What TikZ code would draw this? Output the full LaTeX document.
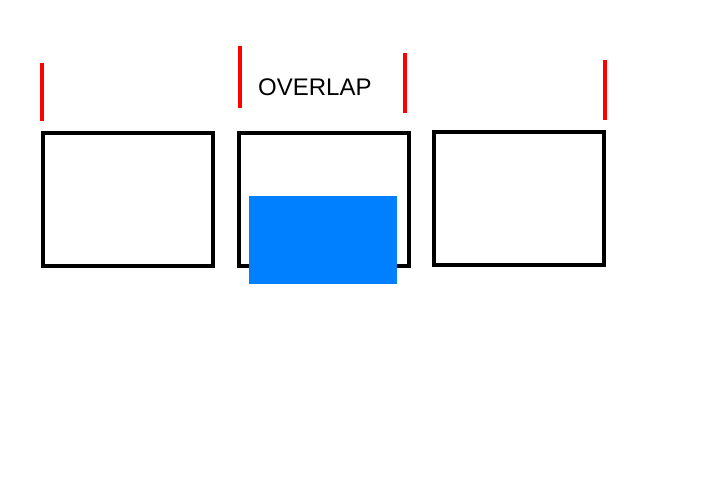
\documentclass[tikz,border=0pt]{standalone}
\usepackage{fontspec}
\setmainfont{Liberation Sans}
\usetikzlibrary{calc}
\usetikzlibrary{positioning}

\definecolor{markred}{RGB}{255,0,0}
\definecolor{overlapblue}{RGB}{0,128,255}

\tikzset{%
  box/.style={draw=black,line width=3.5pt,rectangle,inner sep=0pt,
    minimum width=170pt,minimum height=133pt},
  marker/.style={draw=markred,line width=4pt}
}

\begin{document}
\begin{tikzpicture}[%
  x=1pt,y=-1pt
]

  \useasboundingbox (0,0) rectangle (720,480);

  \node[box] (first) at (128,199.5) {};
  \node[box] (second) at (324,199.5) {};
  \node[box] (third) at (519,198.5) {};

  \fill[overlapblue] (249,196) rectangle (397,284);

  \draw[marker] (42,63) -- (42,121);
  \draw[marker] (239.5,46) -- (239.5,108);
  \draw[marker] (404.5,53) -- (404.5,113);
  \draw[marker] (605,60) -- (605,120);

  \node[font=\fontsize{24}{28}\selectfont,inner sep=0pt,anchor=base west]
    (label) at (258,95.5) {OVERLAP};

\end{tikzpicture}
\end{document}
